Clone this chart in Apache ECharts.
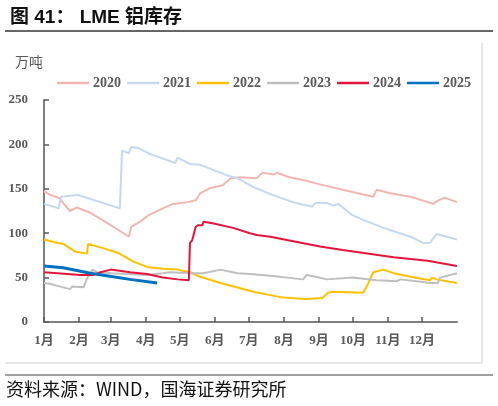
<!DOCTYPE html>
<html><head><meta charset="utf-8">
<script src="https://cdn.jsdelivr.net/npm/echarts@6/dist/echarts.min.js"></script>
<style>html,body{margin:0;padding:0;background:#fff}#c{width:498px;height:406px}</style>
</head><body><div id="c"></div>
<script>
const monthStarts = [0,31,59,90,120,151,181,212,243,273,304,334];
const monthLabels = ['1月','2月','3月','4月','5月','6月','7月','8月','9月','10月','11月','12月'];
const yTicks = [0,50,100,150,200,250];
const seriesNames = ['2020','2021','2022','2023','2024','2025'];
// [dayOfYear, 万吨]
const s2020 = [[0,147],[6,143],[13,140],[23,125],[29,129],[37,125],[41,123],[58,110],[75,96],[77,107],[85,113],[92,120],[105,128],[114,133],[127,135],[134,137],[138,145],[147,151],[158,154],[165,162],[173,163],[188,162],[193,168],[203,166],[206,168],[217,163],[229,160],[244,155],[264,149],[291,141],[294,149],[306,145],[324,141],[344,133],[347,136],[354,140],[365,135]];
const s2021 = [[0,133],[13,128],[15,141],[21,142],[30,143],[35,141],[67,128],[69,193],[75,190],[77,197],[83,196],[94,189],[116,179],[118,185],[129,178],[138,177],[150,171],[162,165],[171,162],[185,152],[200,144],[220,135],[229,132],[237,130],[240,134],[250,134],[256,131],[260,133],[273,120],[282,115],[300,106],[324,96],[335,89],[341,89],[347,99],[365,93]];
const s2022 = [[0,93],[12,89],[17,88],[28,79],[38,77],[39,88],[50,84],[65,78],[79,68],[91,62],[105,60],[118,59],[129,56],[138,51],[156,44],[185,34],[209,28],[218,27],[232,26],[246,27],[251,33],[255,34],[282,33],[286,42],[291,56],[300,59],[309,55],[324,51],[341,47],[343,50],[347,48],[365,44]];
const s2023 = [[0,44],[5,43],[17,39],[23,37],[25,40],[35,39],[38,49],[43,59],[47,56],[60,55],[90,53],[105,55],[111,56],[129,55],[141,55],[156,59],[171,55],[182,54],[200,52],[229,48],[232,53],[240,51],[250,48],[273,50],[294,47],[312,46],[315,48],[335,45],[341,44],[348,44],[350,50],[365,55]];
const s2024 = [[0,56],[12,55],[32,53],[44,53],[50,56],[59,59],[76,56],[91,54],[105,50],[118,48],[128,47],[129,89],[131,92],[134,107],[136,109],[140,109],[141,113],[150,111],[167,106],[182,100],[188,98],[200,96],[244,85],[264,81],[309,73],[339,69],[365,63]];
const s2025 = [[0,63],[17,61],[41,55],[61,51],[76,48],[100,44]];
const seriesData = [s2020,s2021,s2022,s2023,s2024,s2025];
const colors = ['#F2B6B2','#C5D8F0','#FFC000','#BFBFBF','#E2163C','#0070C0'];
const widths = [2,2,2,2,2,3];

const days = [];
for (let i = 0; i <= 365; i++) days.push(String(i));

const chart = echarts.init(document.getElementById('c'), null, {renderer:'canvas'});
const serif = '"Liberation Serif","Noto Sans CJK SC",serif';
chart.setOption({
  animation:false,
  color: colors,
  title: {
    text: '图 41： LME 铝库存', left: 5, top: 3,
    textStyle: {fontSize: 19, fontWeight: 'bold', color: '#111', fontFamily: '"Liberation Sans","Noto Sans CJK SC",sans-serif'}
  },
  legend: {
    data: seriesNames, left: 52, top: 71, icon: 'rect', itemWidth: 32, itemHeight: 2.5, itemGap: 6,
    textStyle: {fontSize: 14, fontWeight: 'bold', color: '#595959', fontFamily: serif, padding:[0,0,0,-1]}
  },
  grid: {left: 44, right: 41, top: 100, bottom: 84},
  xAxis: {
    type: 'category', data: days, boundaryGap: false,
    axisLine: {lineStyle: {color: '#7F7F7F', width: 2}},
    axisTick: {inside: true, length: 5, lineStyle: {color: '#595959', width: 1.5},
      interval: (i) => monthStarts.indexOf(i) >= 0},
    axisLabel: {interval: (i) => monthStarts.indexOf(i) >= 0,
      formatter: (v, i) => monthLabels[monthStarts.indexOf(Number(v))] || '',
      margin: 12, fontSize: 13, fontWeight: 'bold', color: '#595959', fontFamily: serif},
    splitLine: {show: false}
  },
  yAxis: {
    type: 'value', min: yTicks[0], max: yTicks[yTicks.length-1], interval: 50,
    axisLine: {show: true, lineStyle: {color: '#7F7F7F', width: 2}},
    axisTick: {show: true, inside: true, length: 5, lineStyle: {color: '#595959', width: 1.5}},
    axisLabel: {margin: 16, fontSize: 13, fontWeight: 'bold', color: '#595959', fontFamily: serif},
    splitLine: {show: false}
  },
  series: seriesNames.map((n, k) => ({
    name: n, type: 'line', data: seriesData[k], symbol: 'none', showSymbol: false,
    lineStyle: {width: widths[k], color: colors[k]}, itemStyle: {color: colors[k]}
  })),
  graphic: [
    {type:'line', shape:{x1:5,y1:31,x2:493,y2:31}, style:{stroke:'#333',lineWidth:1.5}},
    {type:'line', shape:{x1:482,y1:43,x2:482,y2:363}, style:{stroke:'#CFCFCF',lineWidth:1}},
    {type:'line', shape:{x1:5,y1:363,x2:482,y2:363}, style:{stroke:'#CFCFCF',lineWidth:1}},
    {type:'line', shape:{x1:5,y1:375,x2:493,y2:375}, style:{stroke:'#7F7F7F',lineWidth:1.5}},
    {type:'text', left: 15, top: 55, style:{text:'万吨', fontSize:14, fill:'#595959', fontFamily:'"Noto Sans CJK SC",sans-serif'}},
    {type:'text', left: 6, top: 380, style:{text:'资料来源：WIND，国海证券研究所', fontSize:18, fill:'#111', fontFamily:'"Noto Sans CJK SC",sans-serif'}}
  ]
});
</script></body></html>
